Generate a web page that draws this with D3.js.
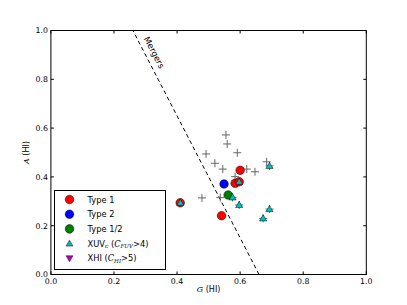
<!DOCTYPE html>
<html>
<head>
<meta charset="utf-8">
<script src="https://cdn.jsdelivr.net/npm/d3@7"></script>
<style>
  body { margin: 0; background: #fff; }
  text { font-family: "DejaVu Sans", sans-serif; }
</style>
</head>
<body>
<div id="chart"></div>
<script>
// all galaxies (grey crosses), G and A of HI
var allG = [0.555, 0.559, 0.492, 0.591, 0.520, 0.545, 0.621, 0.647, 0.684, 0.584, 0.479, 0.537,
            0.693, 0.576, 0.597, 0.693, 0.673, 0.410, 0.597, 0.600, 0.584, 0.549, 0.562, 0.541];
var allA = [0.572, 0.535, 0.494, 0.499, 0.456, 0.432, 0.432, 0.421, 0.462, 0.401, 0.314, 0.315,
            0.445, 0.316, 0.285, 0.268, 0.230, 0.294, 0.380, 0.427, 0.374, 0.371, 0.326, 0.241];

// merger types
var type1G = [0.600, 0.584, 0.597, 0.410, 0.541];
var type1A = [0.427, 0.374, 0.380, 0.294, 0.241];
var type2G = [0.549];
var type2A = [0.371];
var type12G = [0.562];
var type12A = [0.326];

// XUV-disk galaxies
var xuvG = [0.597, 0.410, 0.576, 0.597, 0.693, 0.693, 0.673];
var xuvA = [0.380, 0.294, 0.316, 0.285, 0.445, 0.268, 0.230];

// merger line end points (G at A=0 and A=1)
var lineG = [0.66, 0.26];
var lineA = [0, 1];

var ticks = [0.0, 0.2, 0.4, 0.6, 0.8, 1.0];

var W = 407, H = 305;
var margin = {left: 50.9, right: 40.7, top: 30.5, bottom: 30.5};

var svg = d3.select("#chart").append("svg")
    .attr("width", W)
    .attr("height", H);

var x = d3.scaleLinear().domain([0, 1]).range([margin.left, W - margin.right]);
var y = d3.scaleLinear().domain([0, 1]).range([H - margin.bottom, margin.top]);

svg.append("clipPath").attr("id", "clip")
  .append("rect")
    .attr("x", x(0)).attr("y", y(1))
    .attr("width", x(1) - x(0)).attr("height", y(0) - y(1));

var plot = svg.append("g").attr("clip-path", "url(#clip)");

// merger dividing line
plot.append("line")
    .attr("x1", x(lineG[0])).attr("y1", y(lineA[0]))
    .attr("x2", x(lineG[1])).attr("y2", y(lineA[1]))
    .attr("stroke", "#000")
    .attr("stroke-width", 1)
    .attr("stroke-dasharray", "4,3");

var angle = Math.atan2(y(lineA[0]) - y(lineA[1]), x(lineG[0]) - x(lineG[1])) * 180 / Math.PI;
svg.append("text")
    .attr("transform", "translate(" + x(0.3275) + "," + y(0.91) + ") rotate(" + angle + ")")
    .attr("text-anchor", "middle")
    .attr("dominant-baseline", "central")
    .style("font-size", "8.5px")
    .text("Mergers");

// crosses for every galaxy
var cr = 4;
var crosses = plot.selectAll(".cross")
    .data(d3.range(allG.length))
  .enter().append("g")
    .attr("class", "cross")
    .attr("transform", function(i) { return "translate(" + x(allG[i]) + "," + y(allA[i]) + ")"; });
crosses.append("line").attr("x1", -cr).attr("x2", cr).attr("y1", 0).attr("y2", 0);
crosses.append("line").attr("x1", 0).attr("x2", 0).attr("y1", -cr).attr("y2", cr);
crosses.selectAll("line").attr("stroke", "#666").attr("stroke-width", 1);

function circles(gs, as, color) {
  plot.selectAll(null)
      .data(d3.range(gs.length))
    .enter().append("circle")
      .attr("cx", function(i) { return x(gs[i]); })
      .attr("cy", function(i) { return y(as[i]); })
      .attr("r", 4.3)
      .attr("fill", color)
      .attr("stroke", "#000")
      .attr("stroke-width", 0.5);
}
circles(type1G, type1A, "#ff0000");
circles(type2G, type2A, "#0000ff");
circles(type12G, type12A, "#008000");

var tri = d3.symbol().type(d3.symbolTriangle).size(22);
plot.selectAll(".xuv")
    .data(d3.range(xuvG.length))
  .enter().append("path")
    .attr("class", "xuv")
    .attr("d", tri)
    .attr("transform", function(i) { return "translate(" + x(xuvG[i]) + "," + (y(xuvA[i]) + 0.5) + ")"; })
    .attr("fill", "#00bfbf")
    .attr("stroke", "#000")
    .attr("stroke-width", 0.5);

// frame
svg.append("rect")
    .attr("x", x(0)).attr("y", y(1))
    .attr("width", x(1) - x(0)).attr("height", y(0) - y(1))
    .attr("fill", "none")
    .attr("stroke", "#000")
    .attr("stroke-width", 1);

// inward ticks on all four sides
var tl = 3;
ticks.forEach(function(t) {
  svg.append("line").attr("x1", x(t)).attr("x2", x(t)).attr("y1", y(0)).attr("y2", y(0) - tl).attr("stroke", "#000");
  svg.append("line").attr("x1", x(t)).attr("x2", x(t)).attr("y1", y(1)).attr("y2", y(1) + tl).attr("stroke", "#000");
  svg.append("line").attr("y1", y(t)).attr("y2", y(t)).attr("x1", x(0)).attr("x2", x(0) + tl).attr("stroke", "#000");
  svg.append("line").attr("y1", y(t)).attr("y2", y(t)).attr("x1", x(1)).attr("x2", x(1) - tl).attr("stroke", "#000");
});

// tick labels
svg.selectAll(".xtick")
    .data(ticks)
  .enter().append("text")
    .attr("x", function(d) { return x(d); })
    .attr("y", y(0) + 9.5)
    .attr("text-anchor", "middle")
    .style("font-size", "7.8px")
    .text(function(d) { return d.toFixed(1); });

svg.selectAll(".ytick")
    .data(ticks)
  .enter().append("text")
    .attr("x", x(0) - 3)
    .attr("y", function(d) { return y(d) + 2.9; })
    .attr("text-anchor", "end")
    .style("font-size", "7.8px")
    .text(function(d) { return d.toFixed(1); });

// axis labels
var xl = svg.append("text")
    .attr("x", (x(0) + x(1)) / 2)
    .attr("y", 292)
    .attr("text-anchor", "middle")
    .style("font-size", "8px");
xl.append("tspan").style("font-style", "italic").style("font-family", "DejaVu Serif").text("G");
xl.append("tspan").text(" (HI)");

var yl = svg.append("text")
    .attr("transform", "translate(29," + (y(0) + y(1)) / 2 + ") rotate(-90)")
    .attr("text-anchor", "middle")
    .style("font-size", "8px");
yl.append("tspan").style("font-style", "italic").style("font-family", "DejaVu Serif").text("A");
yl.append("tspan").text(" (HI)");

// legend
var legend = svg.append("g");
legend.append("rect")
    .attr("x", 54.5).attr("y", 190.5)
    .attr("width", 111).attr("height", 79)
    .attr("fill", "#fff")
    .attr("stroke", "#000")
    .attr("stroke-width", 1);

var legendNames = ["Type 1", "Type 2", "Type 1/2", "XUV", "XHI"];
var legendColors = ["#ff0000", "#0000ff", "#008000", "#00bfbf", "#bf00bf"];
var ly0 = 199.5, ldy = 14.7;

legendNames.forEach(function(name, i) {
  var yy = ly0 + i * ldy;
  if (i < 3) {
    legend.append("circle").attr("cx", 69.5).attr("cy", yy).attr("r", 4.3)
      .attr("fill", legendColors[i]).attr("stroke", "#000").attr("stroke-width", 0.5);
  } else {
    var sym = d3.symbol().type(d3.symbolTriangle).size(20)();
    legend.append("path").attr("d", sym)
      .attr("transform", "translate(69.5," + (yy + (i === 3 ? 0.5 : -0.5)) + ")" + (i === 4 ? " rotate(180)" : ""))
      .attr("fill", legendColors[i]).attr("stroke", "#000").attr("stroke-width", 0.5);
  }
  var t = legend.append("text")
      .attr("x", 87.5)
      .attr("y", yy + 3)
      .style("font-size", "8.3px");
  t.append("tspan").text(name);
  if (i === 3) {
    t.append("tspan").attr("dy", 1.8).style("font-size", "6px").style("font-style", "italic").style("font-family", "DejaVu Serif").text("c");
    t.append("tspan").attr("dy", -1.8).text(" (");
    t.append("tspan").style("font-style", "italic").style("font-family", "DejaVu Serif").text("C");
    t.append("tspan").attr("dy", 1.8).style("font-size", "5.5px").style("font-style", "italic").style("font-family", "DejaVu Serif").text("FUV");
    t.append("tspan").attr("dy", -1.8).text(">4)");
  } else if (i === 4) {
    t.append("tspan").text(" (");
    t.append("tspan").style("font-style", "italic").style("font-family", "DejaVu Serif").text("C");
    t.append("tspan").attr("dy", 1.8).style("font-size", "5.5px").style("font-style", "italic").style("font-family", "DejaVu Serif").text("HI");
    t.append("tspan").attr("dy", -1.8).text(">5)");
  }
});
</script>
</body>
</html>
